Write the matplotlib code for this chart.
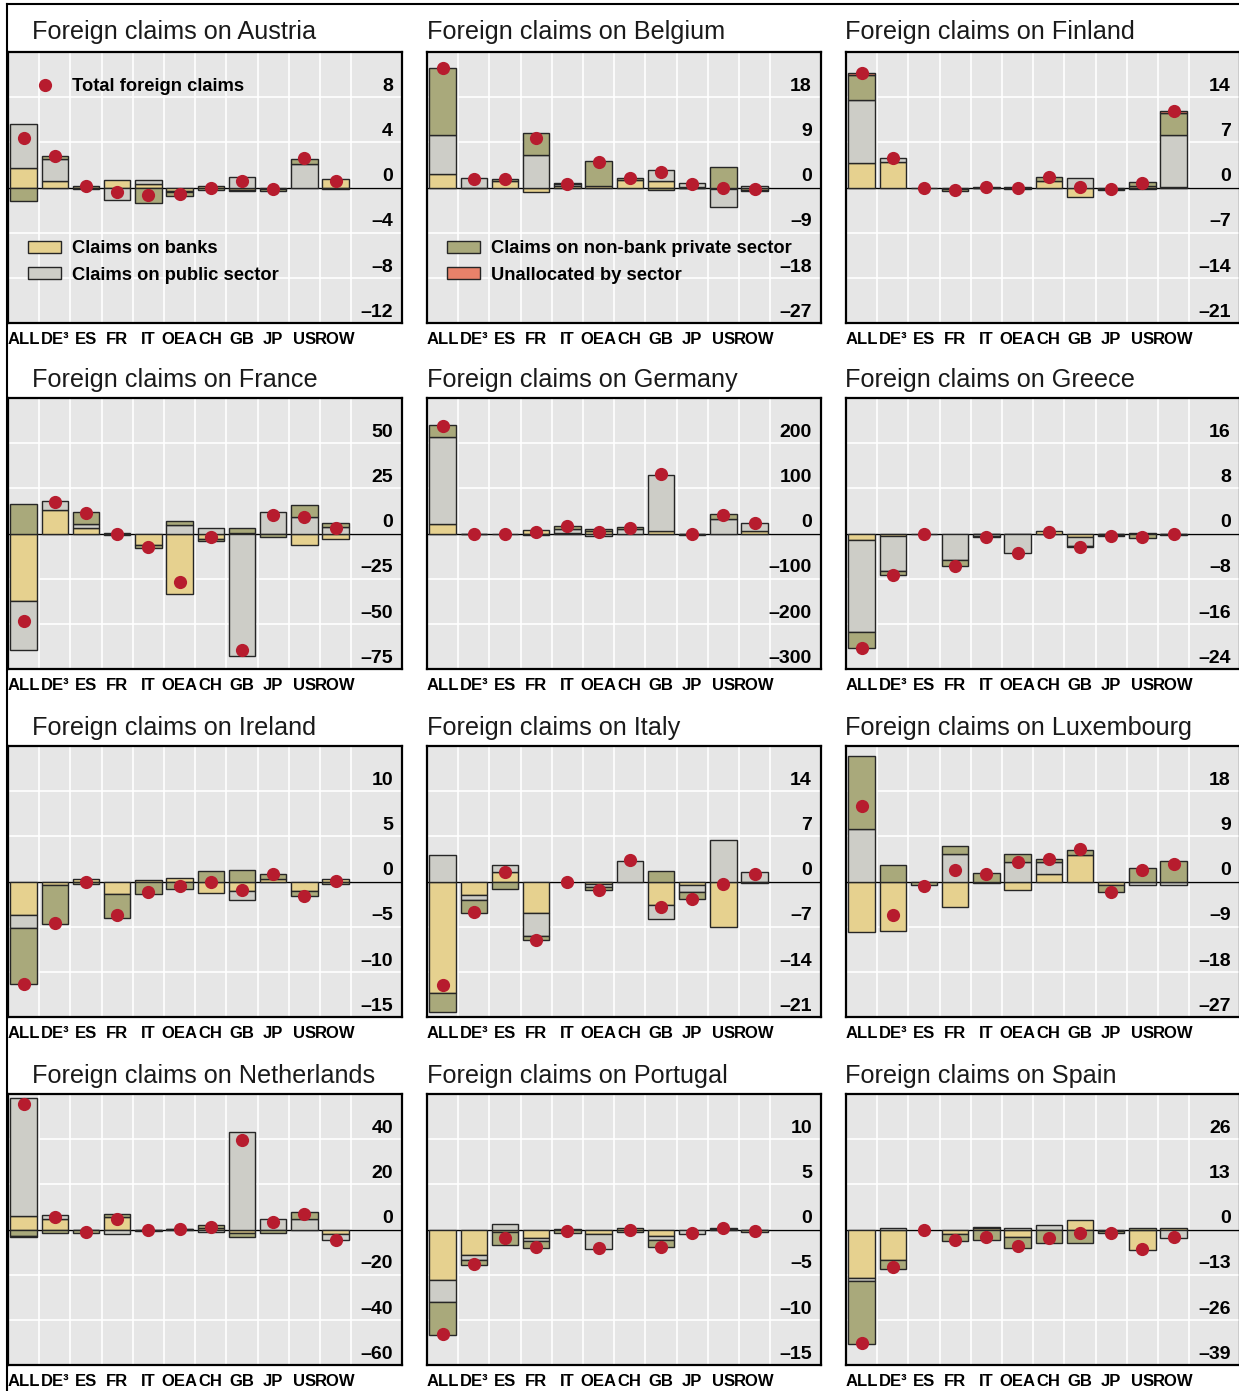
import matplotlib
matplotlib.use("Agg")
import matplotlib.pyplot as plt
import numpy as np
from matplotlib.lines import Line2D
from matplotlib.patches import Patch

# categories and panels
cats = ["ALL", "DE³", "ES", "FR", "IT", "OEA", "CH", "GB", "JP", "US", "ROW"]
countries = ["Austria", "Belgium", "Finland", "France", "Germany", "Greece",
             "Ireland", "Italy", "Luxembourg", "Netherlands", "Portugal", "Spain"]
# y-axis step per panel (range is -3*step .. 3*step)
steps = [4, 9, 7, 25, 100, 8, 5, 7, 9, 20, 5, 13]

banks = {
    "Austria":     [1.7, 0.6, 0.1, 0.7, 0.35, -0.3, 0.15, -0.25, -0.15, 0.0, 0.75],
    "Belgium":     [2.6, 0.0, 1.3, -0.85, 0.3, 0.2, 1.5, 1.2, 0.1, -0.3, -0.4],
    "Finland":     [3.8, 4.0, 0.0, 0.0, 0.1, 0.0, 1.0, -1.4, -0.2, 0.3, 0.1],
    "France":      [-37.1, 13.2, 3.3, 0.3, -6.3, -33.5, -2.8, 0.5, 0.0, -6.6, -2.8],
    "Germany":     [20.6, -1.0, 0.0, 7.0, 1.0, 5.0, 0.0, 5.0, -1.0, 0.0, 5.9],
    "Greece":      [-1.2, -0.5, 0.0, 0.0, -0.1, -0.1, 0.45, -0.6, -0.1, 0.1, 0.0],
    "Ireland":     [-3.7, -0.35, 0.3, -1.4, 0.15, 0.35, -1.3, -1.0, 0.25, -1.1, 0.3],
    "Italy":       [-17.3, -2.05, 1.4, -4.9, 0.0, -0.4, 0.0, -3.7, -0.5, -7.0, 0.0],
    "Luxembourg":  [-10.1, -9.9, 0.0, -5.1, -0.3, -1.65, 1.45, 5.3, -0.65, 0.0, 0.0],
    "Netherlands": [5.8, 4.7, -0.4, 5.4, -0.2, 0.2, 0.5, -1.5, 0.0, 0.0, -1.9],
    "Portugal":    [-5.6, -2.85, -0.3, -0.9, 0.1, -0.55, 0.2, -0.75, 0.0, 0.1, -0.1],
    "Spain":       [-14.1, -8.8, 0.0, -1.25, 0.3, -2.1, 0.0, 2.6, -0.4, -6.0, 0.3],
}
public = {
    "Austria":     [3.9, 1.9, -0.05, -1.1, 0.3, -0.1, 0.0, 0.9, 0.0, 2.05, -0.15],
    "Belgium":     [7.8, 1.8, 0.0, 6.4, 0.3, 0.0, 0.0, 2.2, 0.7, -3.6, 0.3],
    "Finland":     [9.7, 0.55, 0.0, -0.3, 0.0, -0.3, 0.0, 1.5, -0.1, -0.2, 8.1],
    "France":      [-27.6, 4.8, 2.2, 0.0, 0.0, 4.8, 2.8, -67.6, 12.1, 9.0, 3.6],
    "Germany":     [192.6, 0.0, 0.0, 0.0, 9.0, -5.0, 11.0, 125.0, 0.0, 31.6, 17.6],
    "Greece":      [-16.3, -6.2, 0.0, -4.7, -0.3, -3.4, 0.0, -1.6, -0.1, 0.0, -0.1],
    "Ireland":     [-1.4, 0.0, 0.0, 0.0, 0.0, 0.0, 0.0, -1.1, 0.0, 0.0, 0.0],
    "Italy":       [4.1, -0.85, 1.2, -3.5, 0.0, -0.4, 3.2, -2.05, -1.2, 6.5, 1.4],
    "Luxembourg":  [10.5, 0.0, 0.0, 5.4, 0.0, 3.8, 2.5, 0.0, 0.0, -0.7, -0.6],
    "Netherlands": [52.6, 1.9, 0.0, -2.2, 0.0, 0.0, -1.1, 43.0, 4.7, 4.7, -2.9],
    "Portugal":    [-2.4, -0.5, 0.65, -0.35, 0.0, -1.65, 0.0, -0.45, -0.5, 0.0, 0.0],
    "Spain":       [-0.85, 0.4, 0.0, 0.0, 0.3, 0.3, 1.3, 0.0, 0.0, 0.0, -2.4],
}
nonbank = {
    "Austria":     [-1.2, 0.3, -0.1, 0.0, -1.4, -0.35, -0.25, -0.1, -0.15, 0.5, 0.0],
    "Belgium":     [13.5, -0.15, 0.4, 4.4, 0.2, 5.1, 0.45, -0.4, -0.1, 4.1, -0.2],
    "Finland":     [4.0, 0.0, -0.1, -0.2, -0.1, 0.1, 0.65, 0.0, -0.1, 0.6, 3.4],
    "France":      [16.5, 0.0, 6.4, -0.6, -1.8, 2.2, -1.6, 2.6, -2.2, 6.8, 2.2],
    "Germany":     [26.5, -1.0, -1.0, -4.0, 6.6, 4.6, 3.7, 0.0, -3.0, 11.0, 0.0],
    "Greece":      [-2.8, -0.7, -0.15, -1.1, -0.2, 0.0, 0.0, -0.25, -0.2, -0.8, -0.1],
    "Ireland":     [-6.25, -4.3, -0.3, -2.6, -1.4, -0.85, 1.2, 1.25, 0.55, -0.45, -0.25],
    "Italy":       [-2.9, -1.95, -1.1, -0.7, 0.0, -0.5, 0.0, 1.7, -1.0, 0.0, -0.2],
    "Luxembourg":  [14.5, 3.2, -0.7, 1.7, 1.65, 1.7, 0.45, 1.05, -1.5, 2.75, 4.0],
    "Netherlands": [-2.9, -1.5, -1.1, 1.5, -0.3, 0.1, 1.4, -1.8, -1.5, 3.2, 0.0],
    "Portugal":    [-3.7, -0.6, -1.4, -0.75, -0.4, 0.0, -0.3, -0.75, 0.0, 0.1, -0.15],
    "Spain":       [-17.9, -2.5, 0.0, -2.0, -2.9, -3.3, -3.8, -3.8, -0.7, 0.4, 0.0],
}
unalloc = {c: [0.0] * 11 for c in countries}
unalloc["Finland"] = [0.25, 0, 0, 0, 0, 0, 0, 0, 0, 0, 0.25]
unalloc["Netherlands"] = [-0.3, 0, 0, 0, 0, 0, 0, 0, 0, 0, 0]

total = {
    "Austria":     [4.4, 2.8, 0.1, -0.4, -0.7, -0.6, -0.05, 0.55, -0.15, 2.6, 0.6],
    "Belgium":     [23.9, 1.65, 1.65, 9.9, 0.75, 5.1, 1.95, 3.0, 0.6, -0.1, -0.3],
    "Finland":     [17.75, 4.6, 0.0, -0.4, 0.1, -0.15, 1.6, 0.05, -0.2, 0.7, 11.9],
    "France":      [-48.2, 17.6, 11.4, 0.0, -7.7, -26.8, -1.8, -64.3, 10.1, 9.2, 3.1],
    "Germany":     [237.0, -1.0, 0.0, 4.0, 15.5, 4.0, 13.2, 131.0, -1.0, 40.0, 23.5],
    "Greece":      [-20.2, -7.3, 0.0, -5.8, -0.55, -3.5, 0.3, -2.4, -0.4, -0.65, -0.15],
    "Ireland":     [-11.4, -4.6, -0.05, -3.75, -1.2, -0.5, -0.05, -0.9, 0.8, -1.55, 0.05],
    "Italy":       [-16.1, -4.8, 1.5, -9.0, 0.0, -1.35, 3.3, -3.95, -2.7, -0.4, 1.2],
    "Luxembourg":  [15.1, -6.6, -0.8, 2.2, 1.4, 3.9, 4.4, 6.4, -2.1, 2.2, 3.5],
    "Netherlands": [55.5, 5.4, -1.2, 4.7, -0.4, 0.2, 1.2, 39.7, 3.2, 7.0, -4.5],
    "Portugal":    [-11.6, -3.85, -0.95, -1.9, -0.2, -2.1, -0.05, -1.9, -0.4, 0.15, -0.2],
    "Spain":       [-32.6, -10.7, 0.0, -3.1, -2.3, -4.75, -2.4, -1.0, -1.0, -5.5, -2.1],
}

series_labels = ["Claims on banks", "Claims on public sector",
                 "Claims on non-bank private sector", "Unallocated by sector"]
colors = ["#E6D18F", "#CDCDC7", "#A9A97B", "#E8826A"]
red = "#B71C2E"
bg = "#E6E6E6"
edge = "#262626"

plt.rcParams["font.family"] = ["Liberation Sans", "DejaVu Sans"]

W, H = 1239, 1391
fig = plt.figure(figsize=(W / 100, H / 100), dpi=100)

col_left = [8, 427, 846]
title_x = [32, 427, 845]
row_top = [52, 398, 746, 1094]
title_base = [39, 387, 735, 1083]
ax_w, ax_h = 394, 271

x = np.arange(len(cats))

for i, c in enumerate(countries):
    r, col = divmod(i, 3)
    l, t = col_left[col], row_top[r]
    ax = fig.add_axes([l / W, 1 - (t + ax_h) / H, ax_w / W, ax_h / H])
    ax.set_facecolor(bg)
    k = steps[i]

    # positive parts stack upward, negative parts downward
    pos = np.zeros(len(cats))
    neg = np.zeros(len(cats))
    for vals, colr in zip([banks[c], public[c], nonbank[c], unalloc[c]], colors):
        v = np.array(vals, dtype=float)
        bottom = np.where(v >= 0, pos, neg)
        m = v != 0
        ax.bar(x[m], v[m], bottom=bottom[m], width=0.85, color=colr,
               edgecolor=edge, linewidth=1.0, zorder=3)
        pos = pos + np.where(v > 0, v, 0)
        neg = neg + np.where(v < 0, v, 0)

    ax.axhline(0, color="black", lw=1.0, zorder=2)
    ax.plot(x, total[c], "o", ms=9.5, color=red, mec="none", zorder=5)

    ax.set_xlim(-0.5, 12.13)
    ax.set_ylim(-3 * k, 3 * k)
    yt = [k * j for j in range(-3, 3)]
    ax.set_yticks(yt)
    ax.set_yticklabels([])
    ax.set_xticks(x)
    ax.set_xticklabels(cats, fontweight="bold", fontsize=12)
    ax.set_xticks(np.arange(0.5, 11, 1), minor=True)
    ax.tick_params(axis="both", which="both", length=0)
    ax.tick_params(axis="x", pad=6.5)
    ax.grid(True, axis="y", which="major", color="white", lw=1.2)
    ax.grid(True, axis="x", which="minor", color="white", lw=1.2)
    ax.grid(False, axis="x", which="major")
    ax.set_axisbelow(True)
    for s in ax.spines.values():
        s.set_linewidth(1.6)
        s.set_color("black")

    for v in yt:
        lab = str(v) if v >= 0 else "\u2013" + str(-v)
        ax.annotate(lab, xy=(0.977, v), xycoords=ax.get_yaxis_transform(),
                    xytext=(0, 4.5), textcoords="offset points",
                    ha="right", va="baseline", fontsize=14, fontweight="bold")

    fig.text(title_x[col] / W, 1 - title_base[r] / H, "Foreign claims on " + c,
             fontsize=18.2, color="#1A1A1A", va="baseline", ha="left")

    leg_kw = dict(frameon=False, borderpad=0, borderaxespad=0,
                  handlelength=1.8, handleheight=0.62, handletextpad=0.6,
                  labelspacing=0.52,
                  prop=dict(weight="bold", size=13.2))
    if c == "Austria":
        dot = Line2D([], [], marker="o", ls="none", ms=9.5, color=red, mec="none")
        l1 = ax.legend([dot], ["Total foreign claims"], loc="upper left",
                       bbox_to_anchor=(0.051, 0.905), **leg_kw)
        ax.add_artist(l1)
        hs = [Patch(fc=colors[j], ec=edge, lw=1.0) for j in (0, 1)]
        ax.legend(hs, series_labels[:2], loc="upper left",
                  bbox_to_anchor=(0.051, 0.305), **leg_kw)
    if c == "Belgium":
        hs = [Patch(fc=colors[j], ec=edge, lw=1.0) for j in (2, 3)]
        ax.legend(hs, series_labels[2:], loc="upper left",
                  bbox_to_anchor=(0.051, 0.305), **leg_kw)

# frame lines along the top and left edge
fig.add_artist(Line2D([6.5 / W, 1], [1 - 3.5 / H, 1 - 3.5 / H], color="black", lw=1.5))
fig.add_artist(Line2D([6.5 / W, 6.5 / W], [0, 1 - 3.5 / H], color="black", lw=1.5))

fig.savefig("out.png", dpi=100)
